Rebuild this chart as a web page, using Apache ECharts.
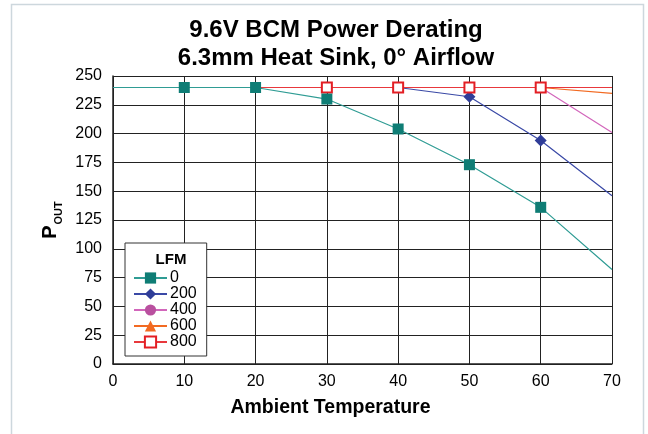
<!DOCTYPE html>
<html>
<head>
<meta charset="utf-8">
<script src="https://cdn.jsdelivr.net/npm/echarts@6/dist/echarts.min.js"></script>
<style>html,body{margin:0;padding:0;background:#fff}#c{width:648px;height:434px}</style>
</head>
<body>
<div id="c"></div>
<script>
const temps = [0, 10, 20, 30, 40, 50, 60, 70];
const seriesNames = ['0', '200', '400', '600', '800'];
const lfm0 = [240, 240, 240, 230, 204, 173, 136, 82];
const lfm200 = [240, 240, 240, 240, 240, 232, 194, 146];
const lfm400 = [240, 240, 240, 240, 240, 240, 240, 201];
const lfm600 = [240, 240, 240, 240, 240, 240, 240, 235];
const lfm800 = [240, 240, 240, 240, 240, 240, 240, 240];
const yTicks = [0, 25, 50, 75, 100, 125, 150, 175, 200, 225, 250];
const xTicks = [0, 10, 20, 30, 40, 50, 60, 70];

const font = '"Liberation Sans", Arial, Helvetica, sans-serif';
// markers shown from 10 to 60; where the 0-LFM square sits on the same spot, other markers are hidden beneath it
function pts(vals, hideUnder) {
  return temps.map((t, i) => {
    const item = { value: [t, vals[i]] };
    if (t === 0 || t === 70) item.symbol = 'none';
    if (hideUnder && vals[i] === lfm0[i]) item.symbol = 'none';
    return item;
  });
}
const styles = [
  { line: '#2f9c94', mark: '#0f7d75', symbol: 'rect', size: 11, z: 5 },
  { line: '#3a49a6', mark: '#2f3d98', symbol: 'diamond', size: 12, z: 2 },
  { line: '#d266bb', mark: '#b9509f', symbol: 'circle', size: 10, z: 2 },
  { line: '#f26a22', mark: '#f26a22', symbol: 'triangle', size: 10, z: 2 },
  { line: '#e8383c', mark: '#e31e24', symbol: 'emptyRect', size: 10, z: 3 }
];
const allVals = [lfm0, lfm200, lfm400, lfm600, lfm800];

const chart = echarts.init(document.getElementById('c'), null, { renderer: 'canvas' });
chart.setOption({
  animation: false,
  backgroundColor: '#fff',
  textStyle: { fontFamily: font, color: '#000' },
  graphic: [{
    type: 'rect', shape: { x: 11.5, y: 4.5, width: 632, height: 440 },
    style: { fill: 'none', stroke: '#cdd7dd', lineWidth: 1.5 }, z: -1
  }],
  title: [{
    text: '9.6V BCM Power Derating\n6.3mm Heat Sink, 0° Airflow',
    left: 331, top: 11, textAlign: 'center',
    textStyle: { fontFamily: font, fontSize: 24, fontWeight: 'bold', lineHeight: 28, color: '#000' }
  }, {
    text: 'LFM', left: 166, top: 247, textAlign: 'center',
    textStyle: { fontFamily: font, fontSize: 15, fontWeight: 'bold', color: '#000' }, z: 10
  }],
  legend: {
    orient: 'vertical', left: 125, top: 243,
    padding: [27, 10, 6, 8], itemGap: 0, itemWidth: 33, itemHeight: 14,
    backgroundColor: '#fff', borderColor: '#333', borderWidth: 1,
    textStyle: { fontFamily: font, fontSize: 16, color: '#000', padding: [0, 0, 0, -2] },
    data: seriesNames, z: 8
  },
  grid: { left: 113, right: 36, top: 76, bottom: 70, containLabel: false, show: false },
  xAxis: {
    type: 'value', min: 0, max: 70, interval: 10,
    name: 'Ambient Temperature', nameLocation: 'middle', nameGap: 34,
    nameTextStyle: { fontFamily: font, fontSize: 19.5, fontWeight: 'bold', color: '#000', padding: [0, 64, 0, 0] },
    axisLine: { show: true, lineStyle: { color: '#222', width: 1.5 } },
    axisTick: { show: false },
    axisLabel: { fontFamily: font, fontSize: 16, color: '#000', margin: 10,
      formatter: v => xTicks.includes(v) ? String(v) : '' },
    splitLine: { show: true, lineStyle: { color: '#222', width: 1 } }
  },
  yAxis: {
    type: 'value', min: 0, max: 250, interval: 25,
    name: '{p|P}{s|OUT}', nameLocation: 'middle', nameGap: 46, nameRotate: 90,
    nameTextStyle: {
      rich: {
        p: { fontFamily: font, fontSize: 20, fontWeight: 'bold', color: '#000' },
        s: { fontFamily: font, fontSize: 11, fontWeight: 'bold', color: '#000', verticalAlign: 'bottom', padding: [17, 0, 0, 1] }
      }
    },
    axisLine: { show: true, lineStyle: { color: '#222', width: 1.5 } },
    axisTick: { show: false },
    axisLabel: { fontFamily: font, fontSize: 16, color: '#000', margin: 11,
      formatter: v => yTicks.includes(v) ? String(v) : '' },
    splitLine: { show: true, lineStyle: { color: '#222', width: 1 } }
  },
  series: allVals.map((vals, i) => ({
    name: seriesNames[i], type: 'line', data: pts(vals, i > 0),
    symbol: styles[i].symbol, symbolSize: styles[i].size, showSymbol: true,
    z: styles[i].z,
    lineStyle: { color: styles[i].line, width: 1.2 },
    itemStyle: { color: styles[i].symbol === 'emptyRect' ? '#e31e24' : styles[i].mark, borderWidth: styles[i].symbol === 'emptyRect' ? 1.5 : 0 },
    emphasis: { disabled: true }
  }))
});
</script>
</body>
</html>
